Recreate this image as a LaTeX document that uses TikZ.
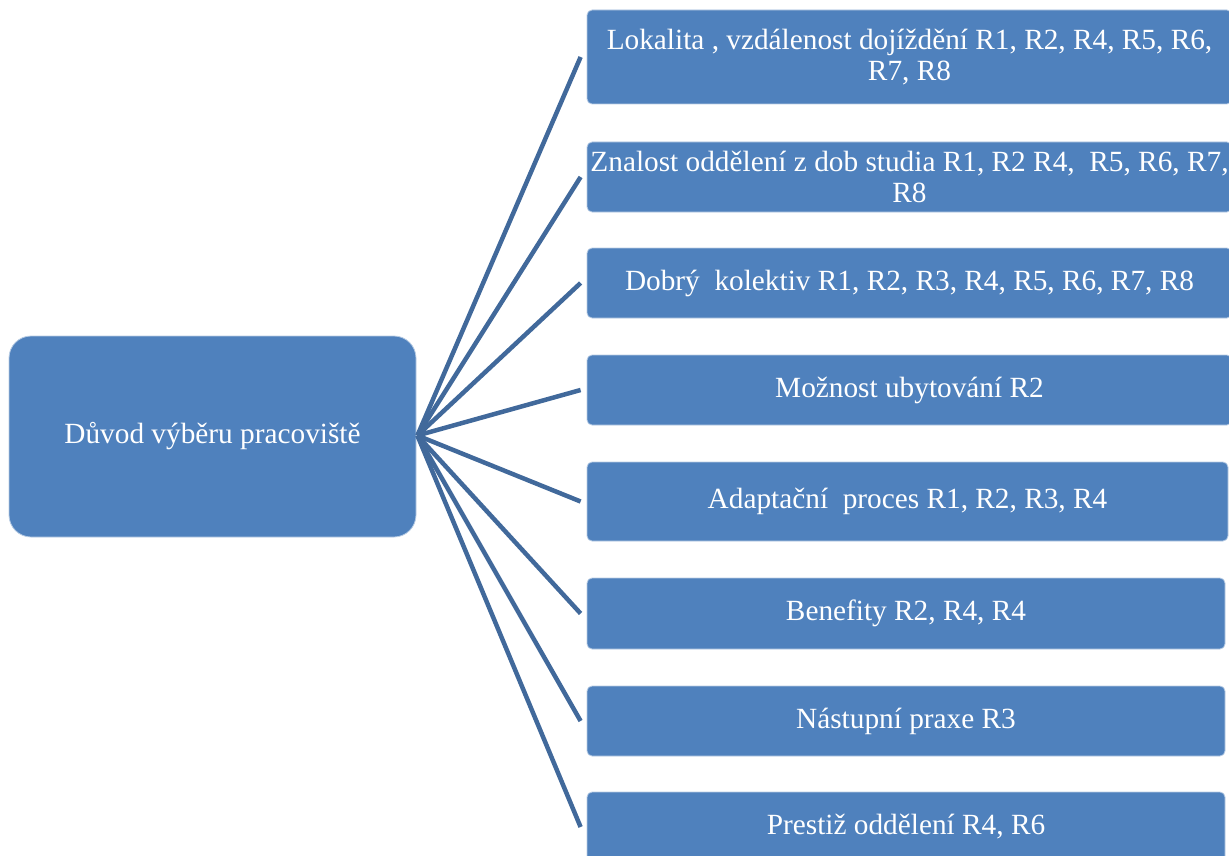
\documentclass[tikz,border=0pt]{standalone}
\usepackage{fontspec}
\setmainfont{Liberation Serif}
\definecolor{boxblue}{HTML}{4F81BD}
\definecolor{linkblue}{HTML}{41699B}
\definecolor{rimblue}{HTML}{B8CCE4}
\begin{document}
\begin{tikzpicture}[x=1pt,y=-1pt,
  item/.style={rectangle, rounded corners=5pt, fill=boxblue, draw=rimblue, line width=0.8pt,
    text=white, align=center, inner sep=0pt,
    font=\fontsize{29.3}{31}\selectfont},
  rootbox/.style={item, rounded corners=22pt},
  link/.style={draw=linkblue, line width=4.5pt}]
\useasboundingbox (0,0) rectangle (1229,856);
\clip (0,0) rectangle (1229,856);

% central topic
\node[rootbox, minimum width=407pt, minimum height=201pt] (root) at (212.5,436.5) {Důvod výběru pracoviště};

% reasons
\node[item, minimum width=645pt, minimum height=94pt] (b1) at (909.5,57)
  {Lokalita , vzdálenost dojíždění R1, R2, R4, R5, R6,\\ R7, R8};
\node[item, minimum width=645pt, minimum height=70pt] (b2) at (909.5,177)
  {Znalost oddělení z dob studia R1, R2 R4,\ \ R5, R6, R7,\\ R8};
\node[item, minimum width=645pt, minimum height=70pt] (b3) at (909.5,283)
  {Dobrý\ \ kolektiv R1, R2, R3, R4, R5, R6, R7, R8};
\node[item, minimum width=645pt, minimum height=70pt] (b4) at (909.5,390)
  {Možnost ubytování R2};
\node[item, minimum width=641pt, minimum height=79pt] (b5) at (907.5,501.5)
  {Adaptační\ \ proces R1, R2, R3, R4};
\node[item, minimum width=638pt, minimum height=71pt] (b6) at (906,613.5)
  {Benefity R2, R4, R4};
\node[item, minimum width=638pt, minimum height=70pt] (b7) at (906,721)
  {Nástupní praxe R3};
\node[item, minimum width=638pt, minimum height=70pt] (b8) at (906,827)
  {Prestiž oddělení R4, R6};

% connectors fan out from the right side of the central topic
\coordinate (hub) at ([xshift=1pt,yshift=1pt]root.east);
\foreach \b in {b1,b2,b3,b4,b5,b6,b7,b8}
  \draw[link] (hub) -- ([xshift=-6pt]\b.west);
\end{tikzpicture}
\end{document}
